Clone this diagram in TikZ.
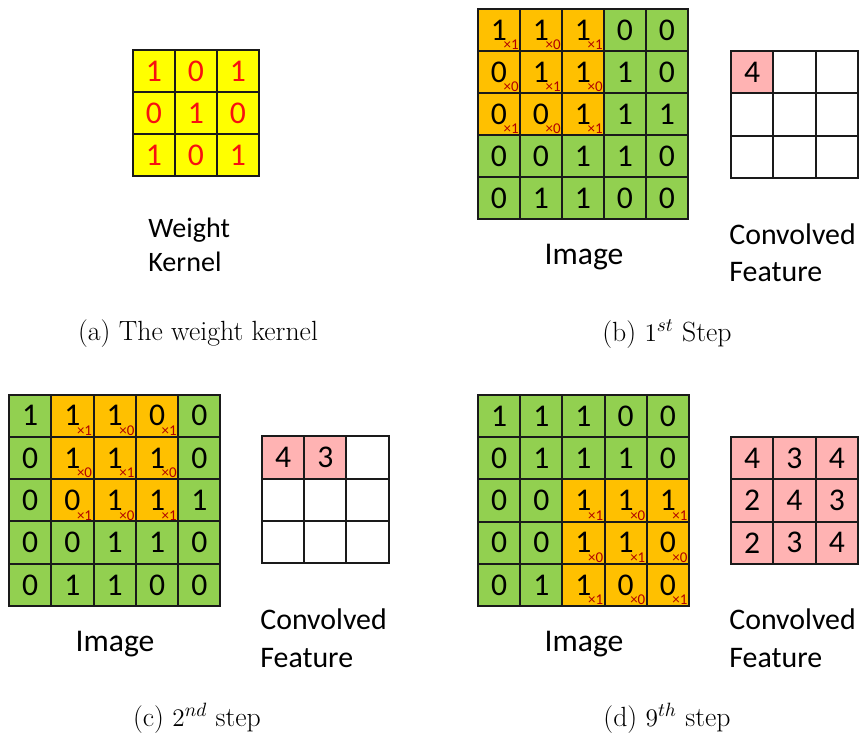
\documentclass[tikz,border=0pt]{standalone}
\usepackage{fontspec}
\newfontfamily\carlito{Carlito}
\usetikzlibrary{positioning}
\definecolor{krnYellow}{HTML}{FFFF00}
\definecolor{krnRed}{HTML}{F81010}
\definecolor{imgGreen}{HTML}{92D050}
\definecolor{winOrange}{HTML}{FFC000}
\definecolor{wtRed}{HTML}{B00000}
\definecolor{featPink}{HTML}{FFB3B3}
\definecolor{gridLine}{HTML}{1A1A1A}
% 5x5 image with the 3x3 window (top-left cell at row #5, col #6)
\newcommand{\imggrid}[7]{%
  \foreach \row [count=\r] in {#7}{%
    \foreach \v [count=\c] in \row{%
      \pgfmathtruncatemacro\inwin{and(and(\r>#5-1,\r<#5+3),and(\c>#6-1,\c<#6+3))}%
      \ifnum\inwin=1
        \pgfmathtruncatemacro\wt{1-mod(\r-#5+\c-#6,2)}%
        \node[imgcell, fill=winOrange] (#1-\r-\c) at ({#2+(\c-0.5)*#4},{#3+(\r-0.5)*#4}) {\v};
        \node[wtlbl] (#1-w-\r-\c) at (#1-\r-\c.south east) {×\wt};
      \else
        \node[imgcell, fill=imgGreen] (#1-\r-\c) at ({#2+(\c-0.5)*#4},{#3+(\r-0.5)*#4}) {\v};
      \fi
    }}}
% 3x3 convolved feature, empty entries stay white
\newcommand{\featgrid}[5]{%
  \foreach \row [count=\r] in {#5}{%
    \foreach \v [count=\c] in \row{%
      \def\cellfill{featPink}%
      \if\relax\detokenize\expandafter{\v}\relax\def\cellfill{white}\fi
      \node[featcell, fill=\cellfill] (#1-\r-\c) at ({#2+(\c-0.5)*#4},{#3+(\r-0.5)*#4}) {\v};
    }}}

\begin{document}
\begin{tikzpicture}[x=0.02cm, y=-0.02cm,
  imgcell/.style={draw=gridLine, line width=1.1pt, minimum size=0.843cm, inner sep=0pt, font=\carlito\fontsize{18}{20}\selectfont},
  featcell/.style={imgcell, minimum size=0.846cm},
  krncell/.style={imgcell, fill=krnYellow, text=krnRed},
  wtlbl/.style={anchor=south east, xshift=-1.2pt, yshift=1pt, inner sep=0pt, text=wtRed, font=\carlito\fontsize{8.5}{9}\selectfont},
  txt/.style={anchor=base west, inner sep=0pt, font=\carlito\fontsize{17}{20}\selectfont},
  subcap/.style={anchor=base, inner sep=0pt, font=\fontsize{15.8}{19}\selectfont}]
\useasboundingbox (0,0) rectangle (864,736);
% (a) kernel
\foreach \row [count=\r] in {{1,0,1},{0,1,0},{1,0,1}}{
  \foreach \v [count=\c] in \row{
    \node[krncell] (k-\r-\c) at ({133+(\c-0.5)*42},{50+(\r-0.5)*42}) {\v};
  }}
\node[txt, font=\carlito\fontsize{16}{19}\selectfont] (kw) at (148,237) {Weight};
\node[txt, font=\carlito\fontsize{16}{19}\selectfont] (kk) at (148,272) {Kernel};
\node[subcap] (capa) at (198,340) {(a) The weight kernel};
% (b) first step
\imggrid{b}{478}{9}{42}{1}{1}{{1,1,1,0,0},{0,1,1,1,0},{0,0,1,1,1},{0,0,1,1,0},{0,1,1,0,0}}
\featgrid{bf}{731}{51}{42.3}{{4,{},{}},{{},{},{}},{{},{},{}}}
\node[txt, anchor=base, font=\carlito\fontsize{18}{20}\selectfont] (bimg) at (584,264) {Image};
\node[txt] (bc) at (729,245) {Convolved};
\node[txt] (bfe) at (729,281) {Feature};
\node[subcap] (capb) at (667,341) {(b) $1^{st}$ Step};
% (c) second step
\imggrid{c}{9}{394.5}{42.3}{1}{2}{{1,1,1,0,0},{0,1,1,1,0},{0,0,1,1,1},{0,0,1,1,0},{0,1,1,0,0}}
\featgrid{cf}{262}{436.5}{42.2}{{4,3,{}},{{},{},{}},{{},{},{}}}
\node[txt, anchor=base, font=\carlito\fontsize{18}{20}\selectfont] (cimg) at (115,651) {Image};
\node[txt] (cc) at (260,629) {Convolved};
\node[txt] (cfe) at (260,667) {Feature};
\node[subcap] (capc) at (197,726) {(c) $2^{nd}$ step};
% (d) ninth step
\imggrid{d}{478}{395}{42.2}{3}{3}{{1,1,1,0,0},{0,1,1,1,0},{0,0,1,1,1},{0,0,1,1,0},{0,1,1,0,0}}
\featgrid{df}{731}{437}{42.3}{{4,3,4},{2,4,3},{2,3,4}}
\node[txt, anchor=base, font=\carlito\fontsize{18}{20}\selectfont] (dimg) at (584,651) {Image};
\node[txt] (dc) at (729,629) {Convolved};
\node[txt] (dfe) at (729,667) {Feature};
\node[subcap] (capd) at (667,726) {(d) $9^{th}$ step};
\end{tikzpicture}
\end{document}
